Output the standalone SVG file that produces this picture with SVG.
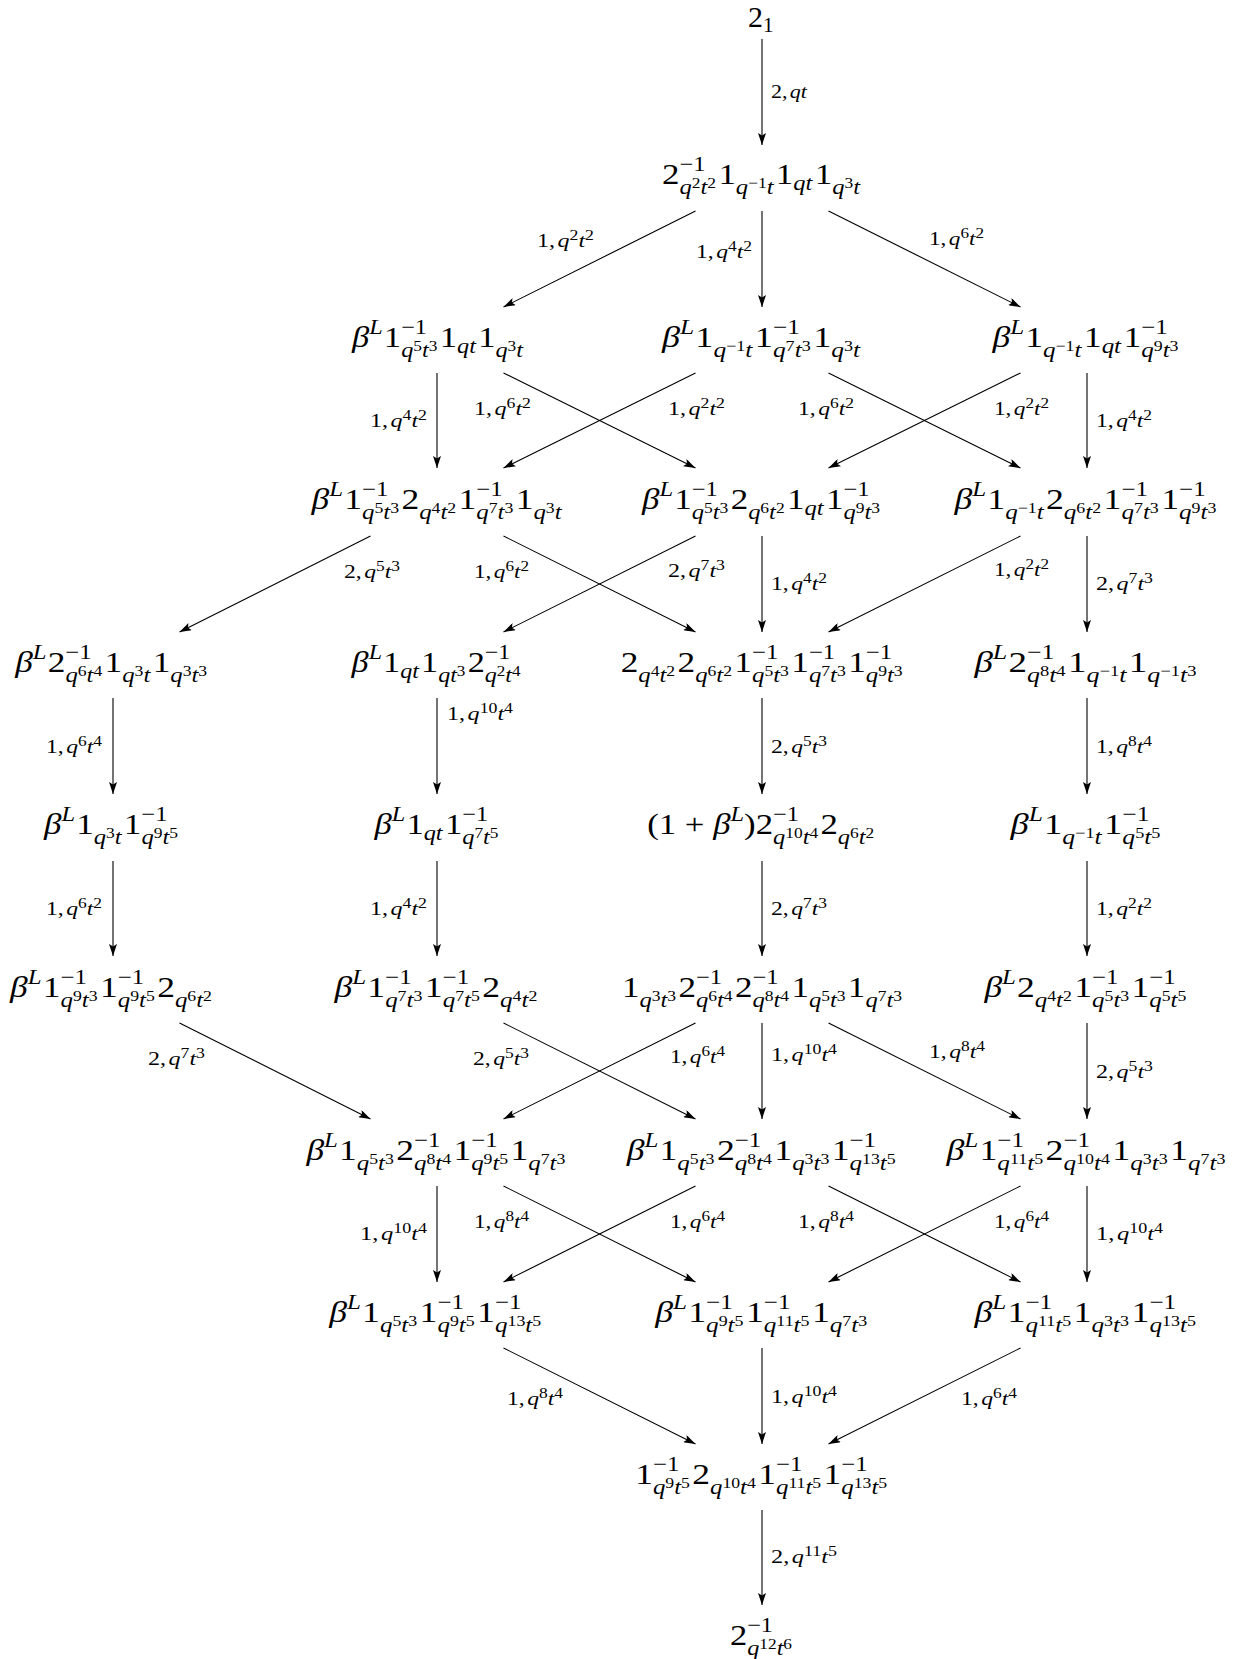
<svg xmlns="http://www.w3.org/2000/svg" width="1256" height="1659" viewBox="0 0 1256 1659">
<style>
text{font-family:"Liberation Serif","Times New Roman",serif;fill:#000}
.n{font-size:30px}
.s{font-size:21px}
.x{font-size:15px}
.i{font-style:italic}
.lb{font-size:19px}
.ls{font-size:14px}
line.e{stroke:#000;stroke-width:1.1;marker-end:url(#ah)}
</style>
<defs>
<marker id="ah" viewBox="0 0 12 8" refX="12" refY="4" markerWidth="12" markerHeight="8" markerUnits="userSpaceOnUse" orient="auto"><path d="M0,0 L12,4 L0,8 L2.5,4 Z" fill="#000"/></marker>
</defs>
<rect width="1256" height="1659" fill="#fff"/>
<g id="edges">
<line class="e" x1="762" y1="39" x2="762" y2="145"/>
<line class="e" x1="695.5" y1="211" x2="503.5" y2="307"/>
<line class="e" x1="762" y1="211" x2="762" y2="307"/>
<line class="e" x1="828.5" y1="211" x2="1020.5" y2="307"/>
<line class="e" x1="437" y1="373" x2="437" y2="468"/>
<line class="e" x1="503.5" y1="373" x2="695.5" y2="468"/>
<line class="e" x1="695.5" y1="373" x2="503.5" y2="468"/>
<line class="e" x1="828.5" y1="373" x2="1020.5" y2="468"/>
<line class="e" x1="1020.5" y1="373" x2="828.5" y2="468"/>
<line class="e" x1="1087" y1="373" x2="1087" y2="468"/>
<line class="e" x1="370.5" y1="536" x2="179.5" y2="632"/>
<line class="e" x1="503.5" y1="536" x2="695.5" y2="632"/>
<line class="e" x1="695.5" y1="536" x2="503.5" y2="632"/>
<line class="e" x1="762" y1="536" x2="762" y2="632"/>
<line class="e" x1="1020.5" y1="536" x2="828.5" y2="632"/>
<line class="e" x1="1087" y1="536" x2="1087" y2="632"/>
<line class="e" x1="113" y1="698" x2="113" y2="794"/>
<line class="e" x1="437" y1="698" x2="437" y2="794"/>
<line class="e" x1="762" y1="698" x2="762" y2="794"/>
<line class="e" x1="1087" y1="698" x2="1087" y2="794"/>
<line class="e" x1="113" y1="861" x2="113" y2="956"/>
<line class="e" x1="437" y1="861" x2="437" y2="956"/>
<line class="e" x1="762" y1="861" x2="762" y2="956"/>
<line class="e" x1="1087" y1="861" x2="1087" y2="956"/>
<line class="e" x1="179.5" y1="1023" x2="370.5" y2="1119"/>
<line class="e" x1="503.5" y1="1023" x2="695.5" y2="1119"/>
<line class="e" x1="695.5" y1="1023" x2="503.5" y2="1119"/>
<line class="e" x1="762" y1="1023" x2="762" y2="1119"/>
<line class="e" x1="828.5" y1="1023" x2="1020.5" y2="1119"/>
<line class="e" x1="1087" y1="1023" x2="1087" y2="1119"/>
<line class="e" x1="437" y1="1186" x2="437" y2="1282"/>
<line class="e" x1="503.5" y1="1186" x2="695.5" y2="1282"/>
<line class="e" x1="695.5" y1="1186" x2="503.5" y2="1282"/>
<line class="e" x1="828.5" y1="1186" x2="1020.5" y2="1282"/>
<line class="e" x1="1020.5" y1="1186" x2="828.5" y2="1282"/>
<line class="e" x1="1087" y1="1186" x2="1087" y2="1282"/>
<line class="e" x1="503.5" y1="1348" x2="695.5" y2="1444"/>
<line class="e" x1="762" y1="1348" x2="762" y2="1444"/>
<line class="e" x1="1020.5" y1="1348" x2="828.5" y2="1444"/>
<line class="e" x1="762" y1="1510" x2="762" y2="1605"/>
</g>
<g id="labels">
<text class="lb" x="771" y="98" textLength="36" lengthAdjust="spacingAndGlyphs">2,<tspan class="i" dx="2">qt</tspan></text>
<text class="lb" x="537" y="247" textLength="57" lengthAdjust="spacingAndGlyphs">1,<tspan class="i" dx="2">q</tspan><tspan class="ls" dy="-7">2</tspan><tspan class="i" dy="7">t</tspan><tspan class="ls" dy="-7">2</tspan></text>
<text class="lb" x="696" y="258" textLength="56" lengthAdjust="spacingAndGlyphs">1,<tspan class="i" dx="2">q</tspan><tspan class="ls" dy="-7">4</tspan><tspan class="i" dy="7">t</tspan><tspan class="ls" dy="-7">2</tspan></text>
<text class="lb" x="929" y="245" textLength="55" lengthAdjust="spacingAndGlyphs">1,<tspan class="i" dx="2">q</tspan><tspan class="ls" dy="-7">6</tspan><tspan class="i" dy="7">t</tspan><tspan class="ls" dy="-7">2</tspan></text>
<text class="lb" x="370" y="427" textLength="57" lengthAdjust="spacingAndGlyphs">1,<tspan class="i" dx="2">q</tspan><tspan class="ls" dy="-7">4</tspan><tspan class="i" dy="7">t</tspan><tspan class="ls" dy="-7">2</tspan></text>
<text class="lb" x="474" y="415" textLength="57" lengthAdjust="spacingAndGlyphs">1,<tspan class="i" dx="2">q</tspan><tspan class="ls" dy="-7">6</tspan><tspan class="i" dy="7">t</tspan><tspan class="ls" dy="-7">2</tspan></text>
<text class="lb" x="668" y="415" textLength="57" lengthAdjust="spacingAndGlyphs">1,<tspan class="i" dx="2">q</tspan><tspan class="ls" dy="-7">2</tspan><tspan class="i" dy="7">t</tspan><tspan class="ls" dy="-7">2</tspan></text>
<text class="lb" x="798" y="415" textLength="56" lengthAdjust="spacingAndGlyphs">1,<tspan class="i" dx="2">q</tspan><tspan class="ls" dy="-7">6</tspan><tspan class="i" dy="7">t</tspan><tspan class="ls" dy="-7">2</tspan></text>
<text class="lb" x="994" y="415" textLength="55" lengthAdjust="spacingAndGlyphs">1,<tspan class="i" dx="2">q</tspan><tspan class="ls" dy="-7">2</tspan><tspan class="i" dy="7">t</tspan><tspan class="ls" dy="-7">2</tspan></text>
<text class="lb" x="1096" y="427" textLength="56" lengthAdjust="spacingAndGlyphs">1,<tspan class="i" dx="2">q</tspan><tspan class="ls" dy="-7">4</tspan><tspan class="i" dy="7">t</tspan><tspan class="ls" dy="-7">2</tspan></text>
<text class="lb" x="344" y="578" textLength="56" lengthAdjust="spacingAndGlyphs">2,<tspan class="i" dx="2">q</tspan><tspan class="ls" dy="-7">5</tspan><tspan class="i" dy="7">t</tspan><tspan class="ls" dy="-7">3</tspan></text>
<text class="lb" x="474" y="578" textLength="55" lengthAdjust="spacingAndGlyphs">1,<tspan class="i" dx="2">q</tspan><tspan class="ls" dy="-7">6</tspan><tspan class="i" dy="7">t</tspan><tspan class="ls" dy="-7">2</tspan></text>
<text class="lb" x="668" y="577" textLength="57" lengthAdjust="spacingAndGlyphs">2,<tspan class="i" dx="2">q</tspan><tspan class="ls" dy="-7">7</tspan><tspan class="i" dy="7">t</tspan><tspan class="ls" dy="-7">3</tspan></text>
<text class="lb" x="771" y="590" textLength="56" lengthAdjust="spacingAndGlyphs">1,<tspan class="i" dx="2">q</tspan><tspan class="ls" dy="-7">4</tspan><tspan class="i" dy="7">t</tspan><tspan class="ls" dy="-7">2</tspan></text>
<text class="lb" x="994" y="576" textLength="55" lengthAdjust="spacingAndGlyphs">1,<tspan class="i" dx="2">q</tspan><tspan class="ls" dy="-7">2</tspan><tspan class="i" dy="7">t</tspan><tspan class="ls" dy="-7">2</tspan></text>
<text class="lb" x="1096" y="590" textLength="57" lengthAdjust="spacingAndGlyphs">2,<tspan class="i" dx="2">q</tspan><tspan class="ls" dy="-7">7</tspan><tspan class="i" dy="7">t</tspan><tspan class="ls" dy="-7">3</tspan></text>
<text class="lb" x="46" y="753" textLength="56" lengthAdjust="spacingAndGlyphs">1,<tspan class="i" dx="2">q</tspan><tspan class="ls" dy="-7">6</tspan><tspan class="i" dy="7">t</tspan><tspan class="ls" dy="-7">4</tspan></text>
<text class="lb" x="447" y="720" textLength="66" lengthAdjust="spacingAndGlyphs">1,<tspan class="i" dx="2">q</tspan><tspan class="ls" dy="-7">10</tspan><tspan class="i" dy="7">t</tspan><tspan class="ls" dy="-7">4</tspan></text>
<text class="lb" x="771" y="753" textLength="56" lengthAdjust="spacingAndGlyphs">2,<tspan class="i" dx="2">q</tspan><tspan class="ls" dy="-7">5</tspan><tspan class="i" dy="7">t</tspan><tspan class="ls" dy="-7">3</tspan></text>
<text class="lb" x="1096" y="753" textLength="56" lengthAdjust="spacingAndGlyphs">1,<tspan class="i" dx="2">q</tspan><tspan class="ls" dy="-7">8</tspan><tspan class="i" dy="7">t</tspan><tspan class="ls" dy="-7">4</tspan></text>
<text class="lb" x="46" y="915" textLength="56" lengthAdjust="spacingAndGlyphs">1,<tspan class="i" dx="2">q</tspan><tspan class="ls" dy="-7">6</tspan><tspan class="i" dy="7">t</tspan><tspan class="ls" dy="-7">2</tspan></text>
<text class="lb" x="370" y="915" textLength="57" lengthAdjust="spacingAndGlyphs">1,<tspan class="i" dx="2">q</tspan><tspan class="ls" dy="-7">4</tspan><tspan class="i" dy="7">t</tspan><tspan class="ls" dy="-7">2</tspan></text>
<text class="lb" x="771" y="915" textLength="56" lengthAdjust="spacingAndGlyphs">2,<tspan class="i" dx="2">q</tspan><tspan class="ls" dy="-7">7</tspan><tspan class="i" dy="7">t</tspan><tspan class="ls" dy="-7">3</tspan></text>
<text class="lb" x="1096" y="915" textLength="56" lengthAdjust="spacingAndGlyphs">1,<tspan class="i" dx="2">q</tspan><tspan class="ls" dy="-7">2</tspan><tspan class="i" dy="7">t</tspan><tspan class="ls" dy="-7">2</tspan></text>
<text class="lb" x="148" y="1065" textLength="57" lengthAdjust="spacingAndGlyphs">2,<tspan class="i" dx="2">q</tspan><tspan class="ls" dy="-7">7</tspan><tspan class="i" dy="7">t</tspan><tspan class="ls" dy="-7">3</tspan></text>
<text class="lb" x="473" y="1065" textLength="56" lengthAdjust="spacingAndGlyphs">2,<tspan class="i" dx="2">q</tspan><tspan class="ls" dy="-7">5</tspan><tspan class="i" dy="7">t</tspan><tspan class="ls" dy="-7">3</tspan></text>
<text class="lb" x="670" y="1063" textLength="55" lengthAdjust="spacingAndGlyphs">1,<tspan class="i" dx="2">q</tspan><tspan class="ls" dy="-7">6</tspan><tspan class="i" dy="7">t</tspan><tspan class="ls" dy="-7">4</tspan></text>
<text class="lb" x="771" y="1061" textLength="66" lengthAdjust="spacingAndGlyphs">1,<tspan class="i" dx="2">q</tspan><tspan class="ls" dy="-7">10</tspan><tspan class="i" dy="7">t</tspan><tspan class="ls" dy="-7">4</tspan></text>
<text class="lb" x="929" y="1058" textLength="56" lengthAdjust="spacingAndGlyphs">1,<tspan class="i" dx="2">q</tspan><tspan class="ls" dy="-7">8</tspan><tspan class="i" dy="7">t</tspan><tspan class="ls" dy="-7">4</tspan></text>
<text class="lb" x="1096" y="1078" textLength="57" lengthAdjust="spacingAndGlyphs">2,<tspan class="i" dx="2">q</tspan><tspan class="ls" dy="-7">5</tspan><tspan class="i" dy="7">t</tspan><tspan class="ls" dy="-7">3</tspan></text>
<text class="lb" x="360" y="1240" textLength="67" lengthAdjust="spacingAndGlyphs">1,<tspan class="i" dx="2">q</tspan><tspan class="ls" dy="-7">10</tspan><tspan class="i" dy="7">t</tspan><tspan class="ls" dy="-7">4</tspan></text>
<text class="lb" x="474" y="1228" textLength="55" lengthAdjust="spacingAndGlyphs">1,<tspan class="i" dx="2">q</tspan><tspan class="ls" dy="-7">8</tspan><tspan class="i" dy="7">t</tspan><tspan class="ls" dy="-7">4</tspan></text>
<text class="lb" x="670" y="1228" textLength="55" lengthAdjust="spacingAndGlyphs">1,<tspan class="i" dx="2">q</tspan><tspan class="ls" dy="-7">6</tspan><tspan class="i" dy="7">t</tspan><tspan class="ls" dy="-7">4</tspan></text>
<text class="lb" x="798" y="1228" textLength="56" lengthAdjust="spacingAndGlyphs">1,<tspan class="i" dx="2">q</tspan><tspan class="ls" dy="-7">8</tspan><tspan class="i" dy="7">t</tspan><tspan class="ls" dy="-7">4</tspan></text>
<text class="lb" x="994" y="1228" textLength="55" lengthAdjust="spacingAndGlyphs">1,<tspan class="i" dx="2">q</tspan><tspan class="ls" dy="-7">6</tspan><tspan class="i" dy="7">t</tspan><tspan class="ls" dy="-7">4</tspan></text>
<text class="lb" x="1096" y="1240" textLength="67" lengthAdjust="spacingAndGlyphs">1,<tspan class="i" dx="2">q</tspan><tspan class="ls" dy="-7">10</tspan><tspan class="i" dy="7">t</tspan><tspan class="ls" dy="-7">4</tspan></text>
<text class="lb" x="507" y="1405" textLength="56" lengthAdjust="spacingAndGlyphs">1,<tspan class="i" dx="2">q</tspan><tspan class="ls" dy="-7">8</tspan><tspan class="i" dy="7">t</tspan><tspan class="ls" dy="-7">4</tspan></text>
<text class="lb" x="771" y="1403" textLength="66" lengthAdjust="spacingAndGlyphs">1,<tspan class="i" dx="2">q</tspan><tspan class="ls" dy="-7">10</tspan><tspan class="i" dy="7">t</tspan><tspan class="ls" dy="-7">4</tspan></text>
<text class="lb" x="961" y="1405" textLength="56" lengthAdjust="spacingAndGlyphs">1,<tspan class="i" dx="2">q</tspan><tspan class="ls" dy="-7">6</tspan><tspan class="i" dy="7">t</tspan><tspan class="ls" dy="-7">4</tspan></text>
<text class="lb" x="771" y="1563" textLength="66" lengthAdjust="spacingAndGlyphs">2,<tspan class="i" dx="2">q</tspan><tspan class="ls" dy="-7">11</tspan><tspan class="i" dy="7">t</tspan><tspan class="ls" dy="-7">5</tspan></text>
</g>
<g id="n0"><text class="n" x="748" y="27">2<tspan class="s" dy="5">1</tspan></text></g>
<g id="n1"><text class="n" x="662" y="184" textLength="198" lengthAdjust="spacingAndGlyphs">2<tspan class="s" dy="-13">−1</tspan><tspan class="s i" dx="-22.3" dy="23">q</tspan><tspan class="x" dy="-6">2</tspan><tspan class="s i" dy="6">t</tspan><tspan class="x" dy="-6">2</tspan><tspan dx="2" dy="-4">1</tspan><tspan class="s i" dy="10">q</tspan><tspan class="x" dy="-6">−1</tspan><tspan class="s i" dy="6">t</tspan><tspan dx="2" dy="-10">1</tspan><tspan class="s i" dy="6">qt</tspan><tspan dx="2" dy="-6">1</tspan><tspan class="s i" dy="10">q</tspan><tspan class="x" dy="-6">3</tspan><tspan class="s i" dy="6">t</tspan></text></g>
<g id="n2a"><text class="n" x="352" y="347" textLength="171" lengthAdjust="spacingAndGlyphs"><tspan class="i">β</tspan><tspan class="s i" dy="-13">L</tspan><tspan dx="1" dy="13">1</tspan><tspan class="s" dy="-13">−1</tspan><tspan class="s i" dx="-22.3" dy="23">q</tspan><tspan class="x" dy="-6">5</tspan><tspan class="s i" dy="6">t</tspan><tspan class="x" dy="-6">3</tspan><tspan dx="2" dy="-4">1</tspan><tspan class="s i" dy="6">qt</tspan><tspan dx="2" dy="-6">1</tspan><tspan class="s i" dy="10">q</tspan><tspan class="x" dy="-6">3</tspan><tspan class="s i" dy="6">t</tspan></text></g>
<g id="n2b"><text class="n" x="662" y="347" textLength="198" lengthAdjust="spacingAndGlyphs"><tspan class="i">β</tspan><tspan class="s i" dy="-13">L</tspan><tspan dx="1" dy="13">1</tspan><tspan class="s i" dy="10">q</tspan><tspan class="x" dy="-6">−1</tspan><tspan class="s i" dy="6">t</tspan><tspan dx="2" dy="-10">1</tspan><tspan class="s" dy="-13">−1</tspan><tspan class="s i" dx="-22.3" dy="23">q</tspan><tspan class="x" dy="-6">7</tspan><tspan class="s i" dy="6">t</tspan><tspan class="x" dy="-6">3</tspan><tspan dx="2" dy="-4">1</tspan><tspan class="s i" dy="10">q</tspan><tspan class="x" dy="-6">3</tspan><tspan class="s i" dy="6">t</tspan></text></g>
<g id="n2c"><text class="n" x="992.5" y="347" textLength="186" lengthAdjust="spacingAndGlyphs"><tspan class="i">β</tspan><tspan class="s i" dy="-13">L</tspan><tspan dx="1" dy="13">1</tspan><tspan class="s i" dy="10">q</tspan><tspan class="x" dy="-6">−1</tspan><tspan class="s i" dy="6">t</tspan><tspan dx="2" dy="-10">1</tspan><tspan class="s i" dy="6">qt</tspan><tspan dx="2" dy="-6">1</tspan><tspan class="s" dy="-13">−1</tspan><tspan class="s i" dx="-22.3" dy="23">q</tspan><tspan class="x" dy="-6">9</tspan><tspan class="s i" dy="6">t</tspan><tspan class="x" dy="-6">3</tspan></text></g>
<g id="n3a"><text class="n" x="311.6" y="509" textLength="250" lengthAdjust="spacingAndGlyphs"><tspan class="i">β</tspan><tspan class="s i" dy="-13">L</tspan><tspan dx="1" dy="13">1</tspan><tspan class="s" dy="-13">−1</tspan><tspan class="s i" dx="-22.3" dy="23">q</tspan><tspan class="x" dy="-6">5</tspan><tspan class="s i" dy="6">t</tspan><tspan class="x" dy="-6">3</tspan><tspan dx="2" dy="-4">2</tspan><tspan class="s i" dy="10">q</tspan><tspan class="x" dy="-6">4</tspan><tspan class="s i" dy="6">t</tspan><tspan class="x" dy="-6">2</tspan><tspan dx="2" dy="-4">1</tspan><tspan class="s" dy="-13">−1</tspan><tspan class="s i" dx="-22.3" dy="23">q</tspan><tspan class="x" dy="-6">7</tspan><tspan class="s i" dy="6">t</tspan><tspan class="x" dy="-6">3</tspan><tspan dx="2" dy="-4">1</tspan><tspan class="s i" dy="10">q</tspan><tspan class="x" dy="-6">3</tspan><tspan class="s i" dy="6">t</tspan></text></g>
<g id="n3b"><text class="n" x="642" y="509" textLength="238" lengthAdjust="spacingAndGlyphs"><tspan class="i">β</tspan><tspan class="s i" dy="-13">L</tspan><tspan dx="1" dy="13">1</tspan><tspan class="s" dy="-13">−1</tspan><tspan class="s i" dx="-22.3" dy="23">q</tspan><tspan class="x" dy="-6">5</tspan><tspan class="s i" dy="6">t</tspan><tspan class="x" dy="-6">3</tspan><tspan dx="2" dy="-4">2</tspan><tspan class="s i" dy="10">q</tspan><tspan class="x" dy="-6">6</tspan><tspan class="s i" dy="6">t</tspan><tspan class="x" dy="-6">2</tspan><tspan dx="2" dy="-4">1</tspan><tspan class="s i" dy="6">qt</tspan><tspan dx="2" dy="-6">1</tspan><tspan class="s" dy="-13">−1</tspan><tspan class="s i" dx="-22.3" dy="23">q</tspan><tspan class="x" dy="-6">9</tspan><tspan class="s i" dy="6">t</tspan><tspan class="x" dy="-6">3</tspan></text></g>
<g id="n3c"><text class="n" x="954.4" y="509" textLength="262" lengthAdjust="spacingAndGlyphs"><tspan class="i">β</tspan><tspan class="s i" dy="-13">L</tspan><tspan dx="1" dy="13">1</tspan><tspan class="s i" dy="10">q</tspan><tspan class="x" dy="-6">−1</tspan><tspan class="s i" dy="6">t</tspan><tspan dx="2" dy="-10">2</tspan><tspan class="s i" dy="10">q</tspan><tspan class="x" dy="-6">6</tspan><tspan class="s i" dy="6">t</tspan><tspan class="x" dy="-6">2</tspan><tspan dx="2" dy="-4">1</tspan><tspan class="s" dy="-13">−1</tspan><tspan class="s i" dx="-22.3" dy="23">q</tspan><tspan class="x" dy="-6">7</tspan><tspan class="s i" dy="6">t</tspan><tspan class="x" dy="-6">3</tspan><tspan dx="2" dy="-4">1</tspan><tspan class="s" dy="-13">−1</tspan><tspan class="s i" dx="-22.3" dy="23">q</tspan><tspan class="x" dy="-6">9</tspan><tspan class="s i" dy="6">t</tspan><tspan class="x" dy="-6">3</tspan></text></g>
<g id="n4a"><text class="n" x="15.2" y="672" textLength="192" lengthAdjust="spacingAndGlyphs"><tspan class="i">β</tspan><tspan class="s i" dy="-13">L</tspan><tspan dx="1" dy="13">2</tspan><tspan class="s" dy="-13">−1</tspan><tspan class="s i" dx="-22.3" dy="23">q</tspan><tspan class="x" dy="-6">6</tspan><tspan class="s i" dy="6">t</tspan><tspan class="x" dy="-6">4</tspan><tspan dx="2" dy="-4">1</tspan><tspan class="s i" dy="10">q</tspan><tspan class="x" dy="-6">3</tspan><tspan class="s i" dy="6">t</tspan><tspan dx="2" dy="-10">1</tspan><tspan class="s i" dy="10">q</tspan><tspan class="x" dy="-6">3</tspan><tspan class="s i" dy="6">t</tspan><tspan class="x" dy="-6">3</tspan></text></g>
<g id="n4b"><text class="n" x="351.6" y="672" textLength="169" lengthAdjust="spacingAndGlyphs"><tspan class="i">β</tspan><tspan class="s i" dy="-13">L</tspan><tspan dx="1" dy="13">1</tspan><tspan class="s i" dy="6">qt</tspan><tspan dx="2" dy="-6">1</tspan><tspan class="s i" dy="10">qt</tspan><tspan class="x" dy="-6">3</tspan><tspan dx="2" dy="-4">2</tspan><tspan class="s" dy="-13">−1</tspan><tspan class="s i" dx="-22.3" dy="23">q</tspan><tspan class="x" dy="-6">2</tspan><tspan class="s i" dy="6">t</tspan><tspan class="x" dy="-6">4</tspan></text></g>
<g id="n4c"><text class="n" x="620.7" y="672" textLength="282" lengthAdjust="spacingAndGlyphs">2<tspan class="s i" dy="10">q</tspan><tspan class="x" dy="-6">4</tspan><tspan class="s i" dy="6">t</tspan><tspan class="x" dy="-6">2</tspan><tspan dx="2" dy="-4">2</tspan><tspan class="s i" dy="10">q</tspan><tspan class="x" dy="-6">6</tspan><tspan class="s i" dy="6">t</tspan><tspan class="x" dy="-6">2</tspan><tspan dx="2" dy="-4">1</tspan><tspan class="s" dy="-13">−1</tspan><tspan class="s i" dx="-22.3" dy="23">q</tspan><tspan class="x" dy="-6">5</tspan><tspan class="s i" dy="6">t</tspan><tspan class="x" dy="-6">3</tspan><tspan dx="2" dy="-4">1</tspan><tspan class="s" dy="-13">−1</tspan><tspan class="s i" dx="-22.3" dy="23">q</tspan><tspan class="x" dy="-6">7</tspan><tspan class="s i" dy="6">t</tspan><tspan class="x" dy="-6">3</tspan><tspan dx="2" dy="-4">1</tspan><tspan class="s" dy="-13">−1</tspan><tspan class="s i" dx="-22.3" dy="23">q</tspan><tspan class="x" dy="-6">9</tspan><tspan class="s i" dy="6">t</tspan><tspan class="x" dy="-6">3</tspan></text></g>
<g id="n4d"><text class="n" x="974.4" y="672" textLength="222" lengthAdjust="spacingAndGlyphs"><tspan class="i">β</tspan><tspan class="s i" dy="-13">L</tspan><tspan dx="1" dy="13">2</tspan><tspan class="s" dy="-13">−1</tspan><tspan class="s i" dx="-22.3" dy="23">q</tspan><tspan class="x" dy="-6">8</tspan><tspan class="s i" dy="6">t</tspan><tspan class="x" dy="-6">4</tspan><tspan dx="2" dy="-4">1</tspan><tspan class="s i" dy="10">q</tspan><tspan class="x" dy="-6">−1</tspan><tspan class="s i" dy="6">t</tspan><tspan dx="2" dy="-10">1</tspan><tspan class="s i" dy="10">q</tspan><tspan class="x" dy="-6">−1</tspan><tspan class="s i" dy="6">t</tspan><tspan class="x" dy="-6">3</tspan></text></g>
<g id="n5a"><text class="n" x="44" y="834" textLength="134" lengthAdjust="spacingAndGlyphs"><tspan class="i">β</tspan><tspan class="s i" dy="-13">L</tspan><tspan dx="1" dy="13">1</tspan><tspan class="s i" dy="10">q</tspan><tspan class="x" dy="-6">3</tspan><tspan class="s i" dy="6">t</tspan><tspan dx="2" dy="-10">1</tspan><tspan class="s" dy="-13">−1</tspan><tspan class="s i" dx="-22.3" dy="23">q</tspan><tspan class="x" dy="-6">9</tspan><tspan class="s i" dy="6">t</tspan><tspan class="x" dy="-6">5</tspan></text></g>
<g id="n5b"><text class="n" x="374.5" y="834" textLength="124" lengthAdjust="spacingAndGlyphs"><tspan class="i">β</tspan><tspan class="s i" dy="-13">L</tspan><tspan dx="1" dy="13">1</tspan><tspan class="s i" dy="6">qt</tspan><tspan dx="2" dy="-6">1</tspan><tspan class="s" dy="-13">−1</tspan><tspan class="s i" dx="-22.3" dy="23">q</tspan><tspan class="x" dy="-6">7</tspan><tspan class="s i" dy="6">t</tspan><tspan class="x" dy="-6">5</tspan></text></g>
<g id="n5c"><text class="n" x="647.2" y="834" textLength="227" lengthAdjust="spacingAndGlyphs">(1 + <tspan class="i">β</tspan><tspan class="s i" dy="-13">L</tspan><tspan dy="13">)2</tspan><tspan class="s" dy="-13">−1</tspan><tspan class="s i" dx="-22.3" dy="23">q</tspan><tspan class="x" dy="-6">10</tspan><tspan class="s i" dy="6">t</tspan><tspan class="x" dy="-6">4</tspan><tspan dx="2" dy="-4">2</tspan><tspan class="s i" dy="10">q</tspan><tspan class="x" dy="-6">6</tspan><tspan class="s i" dy="6">t</tspan><tspan class="x" dy="-6">2</tspan></text></g>
<g id="n5d"><text class="n" x="1010.5" y="834" textLength="150" lengthAdjust="spacingAndGlyphs"><tspan class="i">β</tspan><tspan class="s i" dy="-13">L</tspan><tspan dx="1" dy="13">1</tspan><tspan class="s i" dy="10">q</tspan><tspan class="x" dy="-6">−1</tspan><tspan class="s i" dy="6">t</tspan><tspan dx="2" dy="-10">1</tspan><tspan class="s" dy="-13">−1</tspan><tspan class="s i" dx="-22.3" dy="23">q</tspan><tspan class="x" dy="-6">5</tspan><tspan class="s i" dy="6">t</tspan><tspan class="x" dy="-6">5</tspan></text></g>
<g id="n6a"><text class="n" x="10" y="997" textLength="202" lengthAdjust="spacingAndGlyphs"><tspan class="i">β</tspan><tspan class="s i" dy="-13">L</tspan><tspan dx="1" dy="13">1</tspan><tspan class="s" dy="-13">−1</tspan><tspan class="s i" dx="-22.3" dy="23">q</tspan><tspan class="x" dy="-6">9</tspan><tspan class="s i" dy="6">t</tspan><tspan class="x" dy="-6">3</tspan><tspan dx="2" dy="-4">1</tspan><tspan class="s" dy="-13">−1</tspan><tspan class="s i" dx="-22.3" dy="23">q</tspan><tspan class="x" dy="-6">9</tspan><tspan class="s i" dy="6">t</tspan><tspan class="x" dy="-6">5</tspan><tspan dx="2" dy="-4">2</tspan><tspan class="s i" dy="10">q</tspan><tspan class="x" dy="-6">6</tspan><tspan class="s i" dy="6">t</tspan><tspan class="x" dy="-6">2</tspan></text></g>
<g id="n6b"><text class="n" x="334.4" y="997" textLength="203" lengthAdjust="spacingAndGlyphs"><tspan class="i">β</tspan><tspan class="s i" dy="-13">L</tspan><tspan dx="1" dy="13">1</tspan><tspan class="s" dy="-13">−1</tspan><tspan class="s i" dx="-22.3" dy="23">q</tspan><tspan class="x" dy="-6">7</tspan><tspan class="s i" dy="6">t</tspan><tspan class="x" dy="-6">3</tspan><tspan dx="2" dy="-4">1</tspan><tspan class="s" dy="-13">−1</tspan><tspan class="s i" dx="-22.3" dy="23">q</tspan><tspan class="x" dy="-6">7</tspan><tspan class="s i" dy="6">t</tspan><tspan class="x" dy="-6">5</tspan><tspan dx="2" dy="-4">2</tspan><tspan class="s i" dy="10">q</tspan><tspan class="x" dy="-6">4</tspan><tspan class="s i" dy="6">t</tspan><tspan class="x" dy="-6">2</tspan></text></g>
<g id="n6c"><text class="n" x="622" y="997" textLength="280" lengthAdjust="spacingAndGlyphs">1<tspan class="s i" dy="10">q</tspan><tspan class="x" dy="-6">3</tspan><tspan class="s i" dy="6">t</tspan><tspan class="x" dy="-6">3</tspan><tspan dx="2" dy="-4">2</tspan><tspan class="s" dy="-13">−1</tspan><tspan class="s i" dx="-22.3" dy="23">q</tspan><tspan class="x" dy="-6">6</tspan><tspan class="s i" dy="6">t</tspan><tspan class="x" dy="-6">4</tspan><tspan dx="2" dy="-4">2</tspan><tspan class="s" dy="-13">−1</tspan><tspan class="s i" dx="-22.3" dy="23">q</tspan><tspan class="x" dy="-6">8</tspan><tspan class="s i" dy="6">t</tspan><tspan class="x" dy="-6">4</tspan><tspan dx="2" dy="-4">1</tspan><tspan class="s i" dy="10">q</tspan><tspan class="x" dy="-6">5</tspan><tspan class="s i" dy="6">t</tspan><tspan class="x" dy="-6">3</tspan><tspan dx="2" dy="-4">1</tspan><tspan class="s i" dy="10">q</tspan><tspan class="x" dy="-6">7</tspan><tspan class="s i" dy="6">t</tspan><tspan class="x" dy="-6">3</tspan></text></g>
<g id="n6d"><text class="n" x="984.4" y="997" textLength="202" lengthAdjust="spacingAndGlyphs"><tspan class="i">β</tspan><tspan class="s i" dy="-13">L</tspan><tspan dx="1" dy="13">2</tspan><tspan class="s i" dy="10">q</tspan><tspan class="x" dy="-6">4</tspan><tspan class="s i" dy="6">t</tspan><tspan class="x" dy="-6">2</tspan><tspan dx="2" dy="-4">1</tspan><tspan class="s" dy="-13">−1</tspan><tspan class="s i" dx="-22.3" dy="23">q</tspan><tspan class="x" dy="-6">5</tspan><tspan class="s i" dy="6">t</tspan><tspan class="x" dy="-6">3</tspan><tspan dx="2" dy="-4">1</tspan><tspan class="s" dy="-13">−1</tspan><tspan class="s i" dx="-22.3" dy="23">q</tspan><tspan class="x" dy="-6">5</tspan><tspan class="s i" dy="6">t</tspan><tspan class="x" dy="-6">5</tspan></text></g>
<g id="n7a"><text class="n" x="306.4" y="1160" textLength="259" lengthAdjust="spacingAndGlyphs"><tspan class="i">β</tspan><tspan class="s i" dy="-13">L</tspan><tspan dx="1" dy="13">1</tspan><tspan class="s i" dy="10">q</tspan><tspan class="x" dy="-6">5</tspan><tspan class="s i" dy="6">t</tspan><tspan class="x" dy="-6">3</tspan><tspan dx="2" dy="-4">2</tspan><tspan class="s" dy="-13">−1</tspan><tspan class="s i" dx="-22.3" dy="23">q</tspan><tspan class="x" dy="-6">8</tspan><tspan class="s i" dy="6">t</tspan><tspan class="x" dy="-6">4</tspan><tspan dx="2" dy="-4">1</tspan><tspan class="s" dy="-13">−1</tspan><tspan class="s i" dx="-22.3" dy="23">q</tspan><tspan class="x" dy="-6">9</tspan><tspan class="s i" dy="6">t</tspan><tspan class="x" dy="-6">5</tspan><tspan dx="2" dy="-4">1</tspan><tspan class="s i" dy="10">q</tspan><tspan class="x" dy="-6">7</tspan><tspan class="s i" dy="6">t</tspan><tspan class="x" dy="-6">3</tspan></text></g>
<g id="n7b"><text class="n" x="626.7" y="1160" textLength="269" lengthAdjust="spacingAndGlyphs"><tspan class="i">β</tspan><tspan class="s i" dy="-13">L</tspan><tspan dx="1" dy="13">1</tspan><tspan class="s i" dy="10">q</tspan><tspan class="x" dy="-6">5</tspan><tspan class="s i" dy="6">t</tspan><tspan class="x" dy="-6">3</tspan><tspan dx="2" dy="-4">2</tspan><tspan class="s" dy="-13">−1</tspan><tspan class="s i" dx="-22.3" dy="23">q</tspan><tspan class="x" dy="-6">8</tspan><tspan class="s i" dy="6">t</tspan><tspan class="x" dy="-6">4</tspan><tspan dx="2" dy="-4">1</tspan><tspan class="s i" dy="10">q</tspan><tspan class="x" dy="-6">3</tspan><tspan class="s i" dy="6">t</tspan><tspan class="x" dy="-6">3</tspan><tspan dx="2" dy="-4">1</tspan><tspan class="s" dy="-13">−1</tspan><tspan class="s i" dx="-22.3" dy="23">q</tspan><tspan class="x" dy="-6">13</tspan><tspan class="s i" dy="6">t</tspan><tspan class="x" dy="-6">5</tspan></text></g>
<g id="n7c"><text class="n" x="946.4" y="1160" textLength="279" lengthAdjust="spacingAndGlyphs"><tspan class="i">β</tspan><tspan class="s i" dy="-13">L</tspan><tspan dx="1" dy="13">1</tspan><tspan class="s" dy="-13">−1</tspan><tspan class="s i" dx="-22.3" dy="23">q</tspan><tspan class="x" dy="-6">11</tspan><tspan class="s i" dy="6">t</tspan><tspan class="x" dy="-6">5</tspan><tspan dx="2" dy="-4">2</tspan><tspan class="s" dy="-13">−1</tspan><tspan class="s i" dx="-22.3" dy="23">q</tspan><tspan class="x" dy="-6">10</tspan><tspan class="s i" dy="6">t</tspan><tspan class="x" dy="-6">4</tspan><tspan dx="2" dy="-4">1</tspan><tspan class="s i" dy="10">q</tspan><tspan class="x" dy="-6">3</tspan><tspan class="s i" dy="6">t</tspan><tspan class="x" dy="-6">3</tspan><tspan dx="2" dy="-4">1</tspan><tspan class="s i" dy="10">q</tspan><tspan class="x" dy="-6">7</tspan><tspan class="s i" dy="6">t</tspan><tspan class="x" dy="-6">3</tspan></text></g>
<g id="n8a"><text class="n" x="329.2" y="1322" textLength="212" lengthAdjust="spacingAndGlyphs"><tspan class="i">β</tspan><tspan class="s i" dy="-13">L</tspan><tspan dx="1" dy="13">1</tspan><tspan class="s i" dy="10">q</tspan><tspan class="x" dy="-6">5</tspan><tspan class="s i" dy="6">t</tspan><tspan class="x" dy="-6">3</tspan><tspan dx="2" dy="-4">1</tspan><tspan class="s" dy="-13">−1</tspan><tspan class="s i" dx="-22.3" dy="23">q</tspan><tspan class="x" dy="-6">9</tspan><tspan class="s i" dy="6">t</tspan><tspan class="x" dy="-6">5</tspan><tspan dx="2" dy="-4">1</tspan><tspan class="s" dy="-13">−1</tspan><tspan class="s i" dx="-22.3" dy="23">q</tspan><tspan class="x" dy="-6">13</tspan><tspan class="s i" dy="6">t</tspan><tspan class="x" dy="-6">5</tspan></text></g>
<g id="n8b"><text class="n" x="655.2" y="1322" textLength="212" lengthAdjust="spacingAndGlyphs"><tspan class="i">β</tspan><tspan class="s i" dy="-13">L</tspan><tspan dx="1" dy="13">1</tspan><tspan class="s" dy="-13">−1</tspan><tspan class="s i" dx="-22.3" dy="23">q</tspan><tspan class="x" dy="-6">9</tspan><tspan class="s i" dy="6">t</tspan><tspan class="x" dy="-6">5</tspan><tspan dx="2" dy="-4">1</tspan><tspan class="s" dy="-13">−1</tspan><tspan class="s i" dx="-22.3" dy="23">q</tspan><tspan class="x" dy="-6">11</tspan><tspan class="s i" dy="6">t</tspan><tspan class="x" dy="-6">5</tspan><tspan dx="2" dy="-4">1</tspan><tspan class="s i" dy="10">q</tspan><tspan class="x" dy="-6">7</tspan><tspan class="s i" dy="6">t</tspan><tspan class="x" dy="-6">3</tspan></text></g>
<g id="n8c"><text class="n" x="974.4" y="1322" textLength="221.5" lengthAdjust="spacingAndGlyphs"><tspan class="i">β</tspan><tspan class="s i" dy="-13">L</tspan><tspan dx="1" dy="13">1</tspan><tspan class="s" dy="-13">−1</tspan><tspan class="s i" dx="-22.3" dy="23">q</tspan><tspan class="x" dy="-6">11</tspan><tspan class="s i" dy="6">t</tspan><tspan class="x" dy="-6">5</tspan><tspan dx="2" dy="-4">1</tspan><tspan class="s i" dy="10">q</tspan><tspan class="x" dy="-6">3</tspan><tspan class="s i" dy="6">t</tspan><tspan class="x" dy="-6">3</tspan><tspan dx="2" dy="-4">1</tspan><tspan class="s" dy="-13">−1</tspan><tspan class="s i" dx="-22.3" dy="23">q</tspan><tspan class="x" dy="-6">13</tspan><tspan class="s i" dy="6">t</tspan><tspan class="x" dy="-6">5</tspan></text></g>
<g id="n9"><text class="n" x="635.2" y="1484" textLength="252" lengthAdjust="spacingAndGlyphs">1<tspan class="s" dy="-13">−1</tspan><tspan class="s i" dx="-22.3" dy="23">q</tspan><tspan class="x" dy="-6">9</tspan><tspan class="s i" dy="6">t</tspan><tspan class="x" dy="-6">5</tspan><tspan dx="2" dy="-4">2</tspan><tspan class="s i" dy="10">q</tspan><tspan class="x" dy="-6">10</tspan><tspan class="s i" dy="6">t</tspan><tspan class="x" dy="-6">4</tspan><tspan dx="2" dy="-4">1</tspan><tspan class="s" dy="-13">−1</tspan><tspan class="s i" dx="-22.3" dy="23">q</tspan><tspan class="x" dy="-6">11</tspan><tspan class="s i" dy="6">t</tspan><tspan class="x" dy="-6">5</tspan><tspan dx="2" dy="-4">1</tspan><tspan class="s" dy="-13">−1</tspan><tspan class="s i" dx="-22.3" dy="23">q</tspan><tspan class="x" dy="-6">13</tspan><tspan class="s i" dy="6">t</tspan><tspan class="x" dy="-6">5</tspan></text></g>
<g id="n10"><text class="n" x="730" y="1645" textLength="62" lengthAdjust="spacingAndGlyphs">2<tspan class="s" dy="-13">−1</tspan><tspan class="s i" dx="-22.3" dy="23">q</tspan><tspan class="x" dy="-6">12</tspan><tspan class="s i" dy="6">t</tspan><tspan class="x" dy="-6">6</tspan></text></g>
</svg>
